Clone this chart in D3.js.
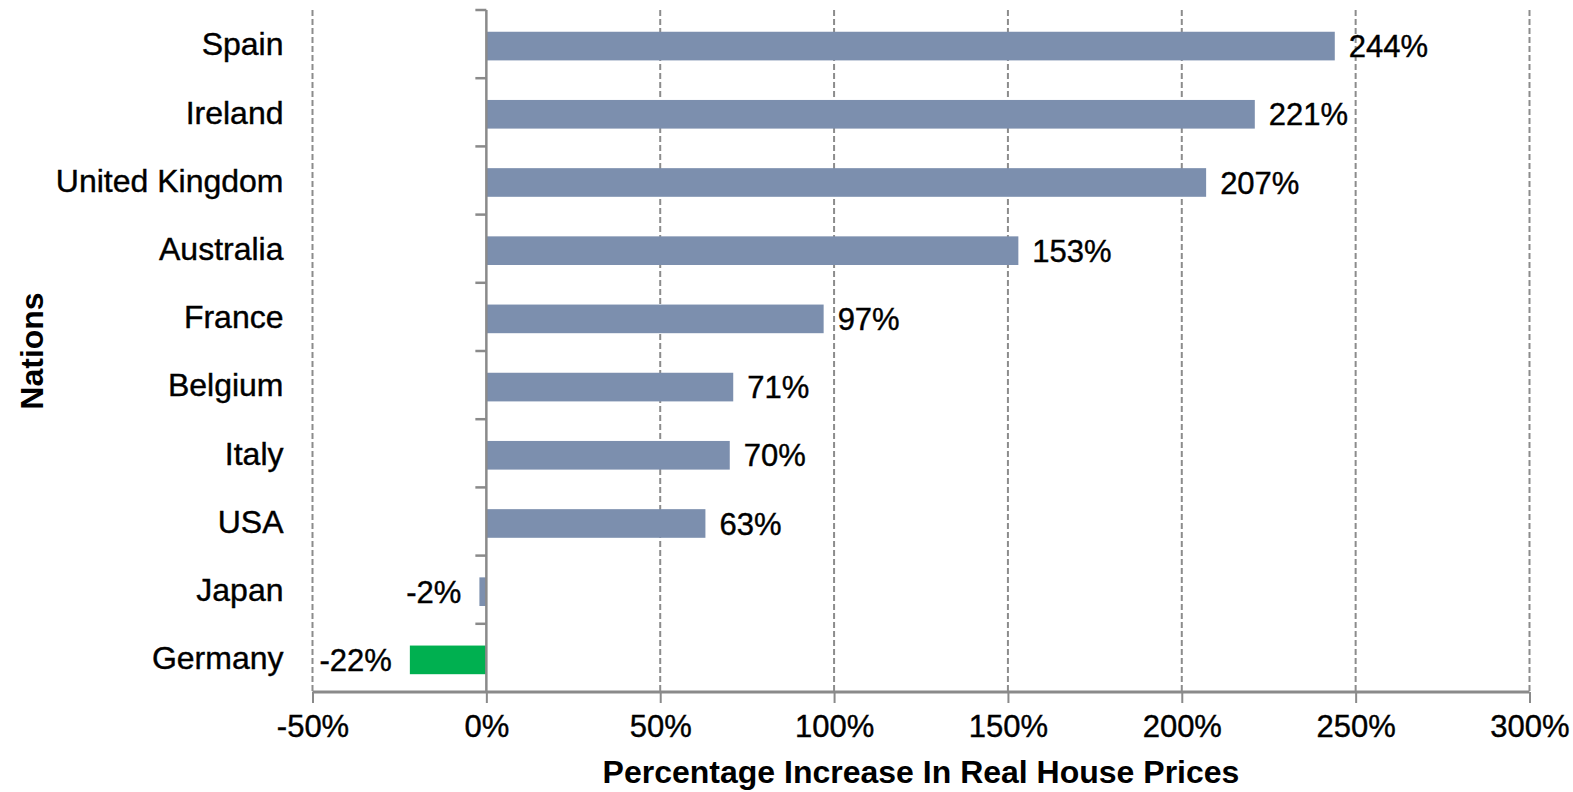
<!DOCTYPE html>
<html>
<head>
<meta charset="utf-8">
<script src="https://cdn.jsdelivr.net/npm/d3@7"></script>
<style>
html, body { margin: 0; padding: 0; background: #fff; }
svg { display: block; }
text { font-family: "Liberation Sans", Arial, sans-serif; fill: #000; }
</style>
</head>
<body>
<svg id="chart" width="1573" height="792"></svg>
<script>
const nations = ["Spain", "Ireland", "United Kingdom", "Australia", "France", "Belgium", "Italy", "USA", "Japan", "Germany"];
const increases = [244, 221, 207, 153, 97, 71, 70, 63, -2, -22];
const xTicks = [-50, 0, 50, 100, 150, 200, 250, 300];
const xTitle = "Percentage Increase In Real House Prices";
const yTitle = "Nations";

(function () {
const svg = d3.select("#chart");
const pLeft = 312.5, pRight = 1529.5, pTop = 10, pBottom = 692;

const x = d3.scaleLinear().domain([-50, 300]).range([pLeft, pRight]);
const y = d3.scaleBand().domain(nations).range([pTop, pBottom]).paddingInner(0.58).paddingOuter(0.29).align(0.55);
const yStep = d3.scaleBand().domain(nations).range([pTop, pBottom]);

// gridlines (dashed)
svg.append("g").selectAll("line")
  .data(xTicks.filter(d => d !== 0))
  .join("line")
  .attr("x1", d => x(d)).attr("x2", d => x(d))
  .attr("y1", pTop).attr("y2", pBottom)
  .attr("stroke", "#8c8c8c").attr("stroke-width", 2)
  .attr("stroke-dasharray", "6,3");

// bars
svg.append("g").selectAll("rect")
  .data(nations)
  .join("rect")
  .attr("x", (d, i) => x(Math.min(0, increases[i])))
  .attr("width", (d, i) => Math.abs(x(increases[i]) - x(0)))
  .attr("y", d => y(d))
  .attr("height", y.bandwidth())
  .attr("fill", (d, i) => d === "Germany" ? "#00b050" : "#7c8fae");

// x axis
const xAxis = d3.axisBottom(x).tickValues(xTicks).tickFormat(d => d + "%").tickSize(11).tickPadding(12);
const gx = svg.append("g").attr("transform", `translate(0,${pBottom})`).call(xAxis);
gx.select(".domain").attr("stroke", "#8a8a8a").attr("stroke-width", 3).attr("d", `M${pLeft},0H${pRight}`);
gx.selectAll(".tick line").attr("stroke", "#8a8a8a").attr("stroke-width", 2);
gx.selectAll(".tick text").style("font-size", "31px").attr("fill", "#000").attr("dy", "0.71em")
  .attr("stroke", "#000").attr("stroke-width", 0.4);

// y axis at zero with ticks on category boundaries
const boundaries = nations.map(d => yStep(d));
const gy = svg.append("g");
gy.append("line").attr("x1", x(0)).attr("x2", x(0)).attr("y1", pTop).attr("y2", pBottom)
  .attr("stroke", "#8a8a8a").attr("stroke-width", 2.5);
gy.selectAll("line.tk").data(boundaries).join("line").attr("class", "tk")
  .attr("x1", x(0) - 11).attr("x2", x(0)).attr("y1", d => d).attr("y2", d => d)
  .attr("stroke", "#8a8a8a").attr("stroke-width", 2.5);

// category labels
svg.append("g").selectAll("text")
  .data(nations)
  .join("text")
  .attr("x", pLeft - 29)
  .attr("y", d => yStep(d) + yStep.bandwidth() / 2)
  .attr("dy", "0.35em")
  .attr("text-anchor", "end")
  .style("font-size", "32px")
  .attr("stroke", "#000").attr("stroke-width", 0.4)
  .text(d => d);

// value labels
svg.append("g").selectAll("text")
  .data(nations)
  .join("text")
  .attr("x", (d, i) => increases[i] >= 0 ? x(increases[i]) + 14 : x(increases[i]) - 18)
  .attr("y", d => y(d) + y.bandwidth() / 2)
  .attr("dy", "0.36em")
  .attr("text-anchor", (d, i) => increases[i] >= 0 ? "start" : "end")
  .style("font-size", "31px")
  .attr("stroke", "#000").attr("stroke-width", 0.4)
  .text((d, i) => increases[i] + "%");

// axis titles
svg.append("text")
  .attr("x", (pLeft + pRight) / 2)
  .attr("y", 783)
  .attr("text-anchor", "middle")
  .style("font-size", "32px").style("font-weight", "bold")
  .text(xTitle);

svg.append("text")
  .attr("transform", `translate(43,351) rotate(-90)`)
  .attr("text-anchor", "middle")
  .style("font-size", "32px").style("font-weight", "bold")
  .text(yTitle);
})();
</script>
</body>
</html>
